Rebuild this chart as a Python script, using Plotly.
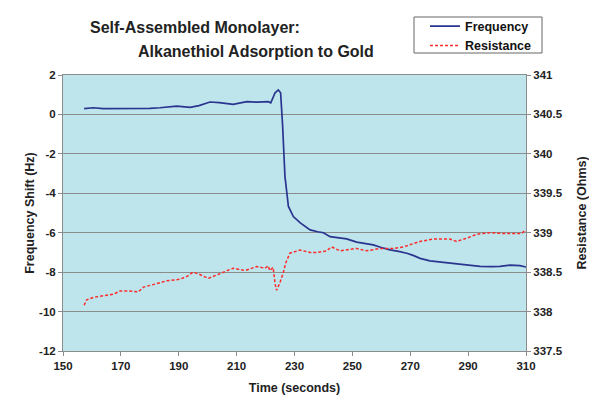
import plotly.graph_objects as go

# Frequency shift (Hz)
freq_time = [157.3,160.5,163.9,168,172,176,180,183.5,186,189.3,193.9,197,200.8,204,208.8,
             213.5,217,220.9,221.8,223.3,224.4,225.2,225.9,226.7,227.9,229.6,232,235.4,238,240,
             242.3,245,248,251.5,254,257.2,260,263,266,268.8,271,273.4,276.8,279,281.4,284,
             287.2,290,294.1,298,301,304.5,307.9,310]
freq_vals = [0.29,0.34,0.29,0.29,0.30,0.31,0.31,0.34,0.36,0.42,0.36,0.45,0.63,0.60,0.51,
             0.65,0.62,0.65,0.59,1.1,1.24,1.1,-0.6,-3.14,-4.67,-5.18,-5.5,-5.86,-5.95,-6.0,
             -6.2,-6.25,-6.31,-6.48,-6.55,-6.62,-6.75,-6.87,-6.95,-7.04,-7.15,-7.30,-7.43,-7.47,
             -7.50,-7.55,-7.59,-7.65,-7.71,-7.72,-7.71,-7.64,-7.67,-7.74]

# Resistance (Ohms)
res_time = [157.3,158.2,160.5,164,167.4,169.7,173,176,177.8,182,185.8,190.4,193,195,197.3,
            200.2,203,206.5,208.8,212.9,216.9,219.8,220.9,221.5,222.6,223.3,223.8,224.9,
            226.1,227,228.4,231.9,235.4,237.7,241.1,242.8,245.7,249.2,251.5,254.9,259.5,
            264.1,267.6,273.4,278,283.7,286,289.5,292.9,297.5,302.1,306.7,308.5,309.6,310]
res_vals = [338.08,338.15,338.18,338.20,338.22,338.26,338.26,338.25,338.31,338.35,338.39,
            338.41,338.45,338.50,338.47,338.42,338.46,338.51,338.55,338.52,338.57,338.55,
            338.58,338.52,338.56,338.35,338.27,338.36,338.49,338.62,338.74,338.78,338.75,
            338.75,338.77,338.82,338.77,338.79,338.80,338.77,338.80,338.80,338.82,338.89,
            338.92,338.92,338.89,338.93,338.98,339.00,338.99,338.99,338.99,339.03,339.02]

x_ticks = [150,170,190,210,230,250,270,290,310]
y_ticks = [-12,-10,-8,-6,-4,-2,0,2]
y_tick_labels = ["-12","-10","-8","-6","-4","-2","0","2"]
y2_ticks = [337.5,338,338.5,339,339.5,340,340.5,341]
y2_tick_labels = ["337.5","338","338.5","339","339.5","340","340.5","341"]

FONT = "Liberation Sans, Arial, sans-serif"
GRID = "#8c8c8c"
TXT = "#222222"

OFF = 8  # page body margin
W, H = 597, 407
L, T = 63 - OFF, 75 - OFF
R, B = W - (526 - OFF), H - (351 - OFF)
PW, PH = W - L - R, H - T - B


def px(xp):
    return (xp - OFF - L) / PW


def py(yp):
    return 1 - (yp - OFF - T) / PH


fig = go.Figure()
fig.add_trace(go.Scatter(x=freq_time, y=freq_vals, name="Frequency", mode="lines",
                         line=dict(color="#2a3590", width=1.7), yaxis="y"))
fig.add_trace(go.Scatter(x=res_time, y=res_vals, name="Resistance", mode="lines",
                         line=dict(color="#ff2a2a", width=1.5, dash="3px,2px"), yaxis="y2"))

tickfont = dict(family=FONT, size=11.5, color=TXT, weight="bold")
titlefont = dict(family=FONT, size=12.5, color=TXT, weight="bold")
fig.update_layout(
    width=W, height=H,
    margin=dict(l=L, r=R, t=T, b=B, autoexpand=False),
    paper_bgcolor="white",
    plot_bgcolor="#bee4ec",
    showlegend=True,
    xaxis=dict(range=[150, 310], tickvals=x_ticks, ticks="outside", ticklen=4,
               tickcolor=GRID, showline=True, linecolor=GRID, mirror=True, showgrid=False,
               zeroline=False, tickfont=tickfont, automargin=False,
               title=dict(text="Time (seconds)", standoff=12, font=titlefont)),
    yaxis=dict(range=[-12, 2], tickvals=y_ticks, ticktext=y_tick_labels,
               ticks="outside", ticklen=4, tickcolor=GRID,
               showline=True, linecolor=GRID, showgrid=True, gridcolor=GRID, gridwidth=1,
               zeroline=False, tickfont=tickfont, automargin=False,
               title=dict(text="Frequency Shift (Hz)", standoff=1, font=titlefont)),
    yaxis2=dict(range=[337.5, 341], tickvals=y2_ticks, ticktext=y2_tick_labels,
                overlaying="y", side="right",
                ticks="outside", ticklen=4, tickcolor=GRID, showline=True, linecolor=GRID,
                showgrid=False, zeroline=False, tickfont=tickfont, automargin=False,
                title=dict(text="Resistance (Ohms)", standoff=15, font=titlefont)),
    legend=dict(
        x=px(425), y=py(11.5),
        xanchor="left", yanchor="top",
        bgcolor="rgba(0,0,0,0)", borderwidth=0,
        font=dict(family=FONT, size=12.5, color="#111111", weight="bold"),
        tracegroupgap=0, itemwidth=30,
    ),
)

# legend frame
fig.add_shape(type="rect", xref="paper", yref="paper",
              x0=px(414), x1=px(542), y0=py(53), y1=py(17),
              line=dict(color="#666666", width=1), fillcolor="white", layer="below")

fig.add_annotation(text="Self-Assembled Monolayer:", xref="paper", yref="paper",
                   x=px(88), y=py(28), xanchor="left", yanchor="middle",
                   showarrow=False, font=dict(family=FONT, size=16, color=TXT, weight="bold"))
fig.add_annotation(text="Alkanethiol Adsorption to Gold", xref="paper", yref="paper",
                   x=px(136), y=py(51.5), xanchor="left", yanchor="middle",
                   showarrow=False, font=dict(family=FONT, size=16, color=TXT, weight="bold"))

fig.write_html("out.html")
